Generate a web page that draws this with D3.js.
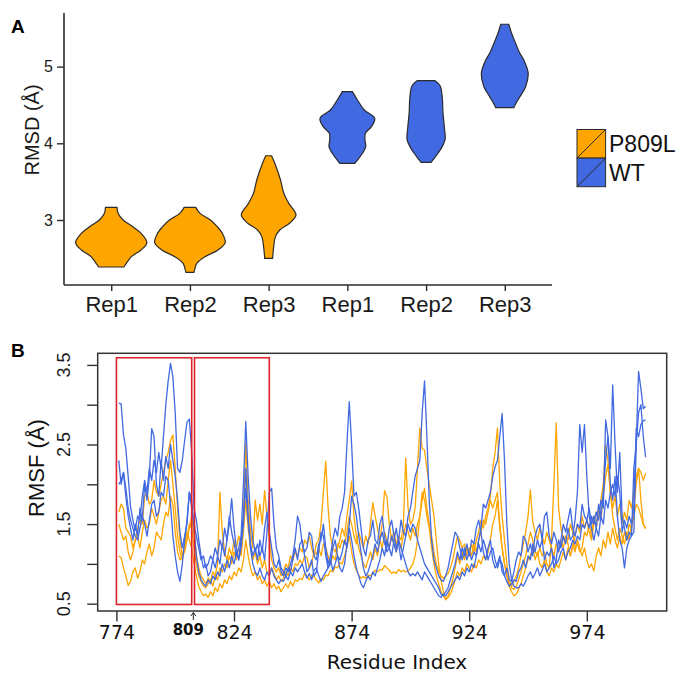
<!DOCTYPE html>
<html>
<head>
<meta charset="utf-8">
<script src="https://cdn.jsdelivr.net/npm/d3@7"></script>
<style>
  body { margin: 0; background: #fff; }
  svg { display: block; }
</style>
</head>
<body>
<div id="chart"></div>
<script>
// ---------- panel A data (RMSD violins) ----------
const rmsdIds = ["P809L-1", "P809L-2", "P809L-3", "WT-1", "WT-2", "WT-3"];
const rmsdLabels = ["Rep1", "Rep2", "Rep3", "Rep1", "Rep2", "Rep3"];
const rmsdGroups = ["P809L", "P809L", "P809L", "WT", "WT", "WT"];
const rmsdTicks = [3, 4, 5];

// [RMSD value, relative density]
const violinP809LRep1 = [[3.165, .16], [3.087, .19], [3.0, .33], [2.913, .6], [2.826, .83], [2.704, .99], [2.609, .83], [2.522, .56], [2.435, .42], [2.387, .35]];
const violinP809LRep2 = [[3.165, .16], [3.087, .28], [3.0, .57], [2.913, .76], [2.826, .9], [2.704, .98], [2.609, .78], [2.522, .42], [2.435, .19], [2.35, .13], [2.318, .11]];
const violinP809LRep3 = [[3.838, .08], [3.74, .17], [3.522, .33], [3.348, .42], [3.217, .56], [3.065, .76], [2.957, .58], [2.87, .31], [2.783, .19], [2.652, .14], [2.5, .11]];
const violinWTRep1 = [[4.674, .14], [4.565, .28], [4.434, .47], [4.326, .76], [4.217, .67], [4.13, .5], [4.043, .49], [3.956, .51], [3.87, .42], [3.739, .21]];
const violinWTRep2 = [[4.817, .25], [4.75, .39], [4.6, .45], [4.4, .47], [4.2, .51], [4.05, .53], [3.95, .44], [3.87, .33], [3.8, .22], [3.752, .14]];
const violinWTRep3 = [[5.552, .11], [5.434, .19], [5.304, .3], [5.173, .42], [5.086, .53], [4.912, .65], [4.738, .58], [4.608, .42], [4.521, .31], [4.464, .25]];
const violins = [violinP809LRep1, violinP809LRep2, violinP809LRep3, violinWTRep1, violinWTRep2, violinWTRep3];

// ---------- panel B data (RMSF per residue, 775..999) ----------
const firstResidue = 775;
const xTicksB = [774, 824, 874, 924, 974];
const yTicksB = [0.5, 1, 1.5, 2, 2.5, 3, 3.5];
const yLabelsB = [0.5, 1.5, 2.5, 3.5];
const boxedRegions = [[774, 806], [807.2, 839]];
const boxedRange = [0.49, 3.59];
const markerResidue = 806.7;

const wt1 = [
  3.02,3.01,2.62,2.45,2.1,1.72,1.55,1.42,1.6,1.55,1.85,2.05,1.9,2.2,2.05,2.3,2.15,2.4,2.2,2.6,3.0,3.3,3.52,3.35,2.9,
  2.2,2.15,2.3,2.55,2.78,2.82,2.4,1.7,1.55,1.3,1.1,0.95,1.0,0.85,0.9,1.05,0.95,1.1,1.0,1.25,1.1,1.3,1.5,1.82,1.45,
  1.2,1.05,1.3,1.6,1.95,1.55,1.25,1.1,1.2,1.05,1.3,1.15,1.45,1.65,1.4,1.2,1.0,0.95,1.05,0.9,0.85,0.95,0.9,1.0,1.1,
  1.3,1.6,1.5,1.25,1.15,1.2,1.4,1.35,1.1,1.05,1.25,1.3,1.5,1.2,1.0,1.1,1.3,1.45,1.35,1.6,1.7,1.9,2.5,3.04,2.5,
  1.85,1.9,1.7,1.45,1.2,1.1,1.3,1.35,1.55,1.3,1.25,1.5,1.6,1.35,1.15,1.2,1.1,1.3,1.45,1.25,1.05,1.2,1.35,1.5,1.4,
  1.5,1.45,1.3,1.2,1.1,1.0,0.95,0.9,0.85,0.8,0.75,0.7,0.62,0.6,0.65,0.7,0.8,0.9,1.0,1.15,1.05,1.2,1.1,1.25,1.1,
  1.3,1.25,1.45,1.55,1.4,1.15,1.05,1.2,1.3,1.05,0.95,1.0,1.1,0.9,0.85,0.95,0.8,0.78,0.9,1.05,1.15,1.1,1.35,1.3,1.15,
  1.25,1.1,1.35,1.45,1.5,1.3,1.6,1.65,1.35,1.25,1.4,1.3,1.15,1.3,1.5,1.4,1.55,1.7,1.45,1.35,1.5,1.45,1.75,1.6,1.55,
  1.7,1.5,1.6,1.45,1.75,1.6,1.9,2.3,2.6,2.2,3.25,2.5,1.9,2.4,1.6,1.45,1.3,1.4,1.35,2.2,2.5,3.42,3.2,2.95,2.98
];
const wt2 = [
  2.3,2.0,2.15,1.85,1.6,1.45,1.3,1.5,1.35,1.7,1.55,2.0,1.8,2.1,2.7,2.6,2.0,1.85,2.3,2.05,2.35,2.2,2.5,2.3,2.1,
  1.8,1.4,1.2,1.35,1.5,1.9,1.7,1.5,1.35,1.2,1.05,1.1,0.95,1.0,1.1,1.05,1.2,1.1,1.3,1.2,1.45,1.3,1.6,1.4,1.25,
  1.1,1.2,1.35,2.0,2.79,2.1,1.6,1.3,1.15,1.25,1.1,1.2,1.05,1.4,1.9,1.95,1.5,1.2,1.1,0.95,0.9,0.85,0.95,0.9,1.05,
  1.2,1.05,1.25,1.3,1.1,0.9,0.95,1.05,0.85,0.9,1.15,1.4,1.35,1.1,0.95,1.0,1.2,1.3,1.1,0.95,0.9,1.0,1.25,1.5,1.85,
  1.75,1.6,1.35,1.15,0.95,0.85,0.9,1.0,1.1,1.25,1.15,1.3,1.4,1.25,1.2,1.45,1.55,1.35,1.2,1.3,1.55,1.4,1.35,1.6,1.7,
  1.9,2.1,2.2,2.3,2.9,3.3,2.6,1.8,1.3,1.05,0.95,0.85,0.8,0.78,0.85,0.95,1.1,1.25,1.4,1.35,1.2,1.05,1.2,1.05,1.15,
  1.05,1.15,1.1,1.25,1.15,1.3,1.2,1.05,1.15,1.2,1.05,0.95,1.05,1.0,0.85,0.78,0.72,0.75,0.8,0.78,0.9,0.95,1.05,0.95,1.1,
  1.05,1.25,1.15,1.3,1.2,1.3,1.05,1.15,1.1,1.2,0.95,1.05,1.3,1.2,1.35,1.25,1.45,1.3,1.35,1.55,1.9,2.75,2.4,2.75,2.1,
  1.6,1.45,1.3,1.45,1.35,1.6,1.5,1.8,1.7,1.9,2.0,1.85,2.1,1.9,1.4,1.55,1.45,1.6,1.5,1.7,2.7,2.6,2.75,2.8,2.81
];
const wt3 = [
  2.0,2.05,2.15,1.95,1.7,1.55,1.45,1.35,1.3,1.45,1.6,1.5,1.35,1.55,1.75,1.8,1.6,1.65,1.9,1.85,2.1,2.05,1.75,1.35,1.1,
  0.9,0.78,1.0,1.3,1.55,1.9,1.8,1.45,1.1,0.9,0.8,0.75,0.72,0.8,0.75,0.85,0.8,0.9,0.85,1.0,0.9,1.05,0.95,1.1,1.0,
  1.15,1.05,1.2,1.5,2.2,1.6,1.2,1.0,0.9,0.85,0.95,0.85,0.8,0.9,0.85,0.95,0.85,0.8,0.75,0.8,0.78,0.85,0.8,0.9,0.85,
  0.95,0.9,0.95,1.0,0.9,0.82,0.88,0.8,0.92,0.95,0.85,0.78,0.85,0.9,0.95,1.05,0.92,1.0,1.1,1.05,1.15,1.3,1.2,1.45,1.3,
  1.1,0.95,0.85,0.75,0.7,0.78,0.85,0.8,0.9,0.85,0.95,1.05,1.2,1.1,1.3,1.2,1.35,1.25,1.15,1.3,1.2,1.1,1.0,0.9,0.85,
  0.88,0.85,0.9,0.85,0.8,0.9,0.85,0.8,0.75,0.7,0.65,0.6,0.58,0.62,0.6,0.65,0.7,0.75,0.8,0.85,0.8,0.9,0.85,0.95,0.9,
  1.0,0.95,1.1,1.3,1.45,1.75,1.7,1.8,1.9,2.1,2.22,2.3,2.6,2.89,2.3,1.5,1.0,0.8,0.72,0.7,0.7,0.75,0.72,0.78,0.85,
  0.9,0.82,0.88,0.95,0.85,0.92,1.0,0.9,0.95,1.0,1.1,1.0,1.05,1.15,1.2,1.05,1.15,1.2,1.3,1.25,1.35,1.3,1.5,1.45,1.55,
  1.45,1.6,1.5,1.65,1.55,1.8,1.7,2.81,2.6,2.0,1.8,2.1,1.6,1.3,1.2,0.95,1.2,1.3,1.35,1.4,2.5,2.9,3.0,2.6,2.34
];
const mut1 = [
  1.65,1.75,1.7,1.45,1.4,1.35,1.2,1.3,1.45,1.55,1.5,1.85,1.9,1.75,1.8,2.05,1.9,1.85,2.0,2.15,2.3,2.4,2.55,2.62,2.2,
  1.7,1.3,1.1,1.15,1.3,1.45,1.6,1.35,1.1,0.95,0.85,0.8,0.75,0.82,0.78,0.9,0.85,1.0,1.9,1.4,1.15,1.05,1.2,1.1,1.3,
  1.2,1.35,1.25,1.6,2.53,1.8,1.4,1.2,1.8,1.55,1.75,1.5,1.92,1.6,1.3,1.05,0.95,0.9,0.95,0.85,0.9,1.0,0.95,1.1,1.05,
  1.15,1.1,1.2,1.15,1.3,1.25,1.35,1.2,1.1,1.25,1.3,1.5,1.9,2.29,1.7,1.35,1.2,1.15,1.25,1.2,1.3,1.25,1.4,1.6,1.5,
  1.35,1.25,1.4,1.3,1.2,1.35,1.25,1.5,1.77,1.6,1.45,1.3,1.5,1.92,1.85,1.5,1.3,1.4,1.25,1.35,1.3,1.5,2.33,1.7,1.5,
  1.55,1.7,2.2,2.71,2.45,2.43,2.2,2.0,1.8,1.6,1.3,1.0,0.8,0.65,0.55,0.6,0.7,0.8,0.95,1.1,1.0,1.15,1.05,1.2,1.1,
  1.25,1.15,1.3,1.4,1.55,1.45,1.6,1.7,1.85,2.2,2.4,2.71,2.0,1.6,1.3,1.0,0.8,0.7,0.68,0.72,0.8,0.9,1.0,1.1,1.25,
  1.4,1.3,1.15,1.1,1.2,1.1,1.15,1.0,0.95,1.3,2.0,2.77,1.7,1.45,1.3,1.35,1.3,1.5,1.4,1.2,1.25,1.15,1.2,1.4,1.35,
  1.5,1.35,1.6,1.45,1.7,1.55,1.85,2.1,2.25,1.9,1.7,1.85,1.6,1.75,1.5,1.65,1.55,1.8,1.7,1.9,2.1,2.2,2.15,2.05,2.14
];
const mut2 = [
  1.5,1.4,1.3,1.35,1.15,1.05,1.15,1.3,1.35,1.2,1.4,1.55,1.45,1.5,1.7,1.6,1.5,1.65,1.8,1.85,1.75,2.05,2.3,2.0,1.7,
  1.35,1.15,1.05,1.2,1.35,1.5,1.45,1.2,1.0,0.85,0.78,0.72,0.7,0.75,0.8,0.72,0.85,0.8,0.95,0.9,1.0,0.95,1.1,1.0,1.15,
  1.05,1.2,1.1,1.4,1.8,1.45,1.2,1.05,1.15,1.0,1.1,0.95,1.05,0.9,0.85,0.95,0.88,0.8,0.85,0.78,0.82,0.9,0.85,0.95,0.9,
  1.0,0.98,1.05,1.0,1.1,1.08,0.95,1.0,1.15,1.12,1.2,1.1,1.25,1.2,1.1,1.0,1.1,1.05,1.2,1.3,1.45,1.35,1.6,1.8,2.04,
  1.6,1.35,1.2,1.1,1.0,0.95,1.05,1.15,1.05,1.2,1.1,1.3,1.2,1.4,1.3,1.2,1.35,1.25,1.15,1.3,1.2,1.35,1.5,1.4,1.3,
  1.45,1.35,1.5,1.6,1.8,1.95,1.7,1.5,1.35,1.15,1.0,0.9,0.85,0.82,0.85,0.88,0.95,1.05,1.2,1.35,1.3,1.2,1.25,1.1,1.2,
  1.1,1.25,1.15,1.3,1.4,1.55,1.5,1.65,1.8,1.7,1.8,1.9,1.5,1.2,1.0,0.85,0.75,0.72,0.78,0.85,0.95,1.1,1.25,1.4,1.6,
  1.93,1.53,1.4,1.3,1.45,1.35,1.25,1.4,1.3,1.2,1.1,1.25,1.15,1.3,1.2,1.35,1.25,1.1,1.2,1.35,1.5,1.4,1.6,1.45,1.55,
  1.4,1.3,1.5,1.65,1.55,1.8,2.0,2.49,2.3,1.9,1.6,1.45,1.3,1.45,1.35,1.25,1.4,1.3,1.5,1.7,2.0,2.2,1.8,1.5,1.44
];
const mut3 = [
  1.1,1.08,0.95,0.85,0.73,0.78,0.9,0.95,0.82,0.9,1.05,1.0,1.15,1.25,1.1,1.2,1.4,1.35,1.3,1.5,1.65,1.6,1.85,1.75,1.4,
  1.15,1.05,1.1,1.25,1.4,1.3,1.2,1.0,0.85,0.72,0.65,0.6,0.62,0.58,0.65,0.6,0.7,0.65,0.75,0.7,0.8,0.75,0.85,0.8,0.9,
  0.85,0.95,0.9,1.05,1.3,1.1,0.95,0.85,0.9,0.8,0.85,0.75,0.8,0.72,0.78,0.7,0.75,0.68,0.72,0.65,0.7,0.75,0.7,0.78,0.72,
  0.8,0.78,0.82,0.8,0.88,0.85,0.8,0.86,0.84,0.8,0.76,0.82,0.8,0.86,0.85,0.92,0.9,0.96,0.95,1.02,1.0,1.1,1.2,1.35,1.15,
  1.0,0.92,0.86,0.82,0.84,0.82,0.86,0.85,0.88,0.92,0.9,0.93,0.92,0.98,0.95,0.92,0.88,0.9,0.88,0.93,0.9,0.92,0.9,0.91,0.95,
  1.0,1.1,1.3,1.6,1.9,1.8,1.6,1.45,1.2,1.0,0.85,0.75,0.65,0.6,0.55,0.58,0.62,0.7,0.8,0.9,0.85,0.95,0.9,1.0,0.95,
  0.9,1.0,0.95,1.05,1.0,1.1,1.05,1.15,1.3,1.5,1.6,1.8,1.45,1.2,1.0,0.85,0.72,0.65,0.6,0.62,0.68,0.75,0.85,0.95,1.05,
  1.1,1.2,1.05,1.15,1.0,0.95,1.05,0.9,0.85,0.95,0.9,1.0,0.95,1.05,1.15,1.05,1.2,1.1,1.25,1.15,1.3,1.2,1.1,1.2,1.05,
  0.95,1.0,0.91,1.1,1.2,1.1,1.3,1.2,1.4,1.25,1.45,1.3,1.2,1.35,1.25,1.4,1.3,1.5,1.45,1.6,1.75,1.7,1.6,1.5,1.45
];

const colors = { P809L: "#FFA500", WT: "#4169E1" };
const ink = "#2b2b2b";

const W = 679, H = 673;
const svg = d3.select("#chart").append("svg")
  .attr("width", W)
  .attr("height", H)
  .style("font-family", "'Liberation Sans', Arial, sans-serif");

// ================= PANEL A =================
const a = { left: 64, right: 552, top: 13, bottom: 285 };

const xA = d3.scalePoint()
  .domain(rmsdIds)
  .range([a.left, a.right])
  .padding(0.6);

const yA = d3.scaleLinear()
  .domain([2.1525, 5.699])
  .range([a.bottom, a.top]);

const wA = d3.scaleLinear().domain([0, 1]).range([0, 36]);

svg.append("text")
  .attr("x", 11).attr("y", 33)
  .attr("font-weight", "bold").attr("font-size", 19)
  .text("A");

// violins
rmsdIds.forEach((id, i) => {
  const cx = xA(id);
  const area = d3.area()
    .y(d => yA(d[0]))
    .x0(d => cx - wA(d[1]))
    .x1(d => cx + wA(d[1]))
    .curve(d3.curveCatmullRom);
  svg.append("path")
    .attr("d", area(violins[i]))
    .attr("fill", colors[rmsdGroups[i]])
    .attr("stroke", ink)
    .attr("stroke-width", 1.2);
});

const yAxisA = svg.append("g")
  .attr("transform", `translate(${a.left},0)`)
  .call(d3.axisLeft(yA).tickValues(rmsdTicks).tickSize(7).tickPadding(4).tickFormat(d3.format("d")));
yAxisA.select(".domain").attr("d", `M0,${a.top}V${a.bottom}`);

const xAxisA = svg.append("g")
  .attr("transform", `translate(0,${a.bottom})`)
  .call(d3.axisBottom(xA).tickSize(6).tickPadding(5).tickFormat((d, i) => rmsdLabels[i]));
xAxisA.select(".domain").attr("d", `M${a.left},0H${a.right}`);

[yAxisA, xAxisA].forEach(g => {
  g.select(".domain").attr("stroke", ink).attr("stroke-width", 1.6);
  g.selectAll(".tick line").attr("stroke", ink).attr("stroke-width", 1.4);
  g.selectAll("text").attr("fill", "#1a1a1a").attr("font-family", "'Liberation Sans', Arial, sans-serif");
});
yAxisA.selectAll("text").attr("font-size", 16);
xAxisA.selectAll("text").attr("font-size", 22);

svg.append("text")
  .attr("transform", "translate(38.5,130) rotate(-90)")
  .attr("text-anchor", "middle")
  .attr("font-size", 20)
  .attr("fill", "#1a1a1a")
  .text("RMSD (Å)");

// legend
const legendKeys = ["P809L", "WT"];
const legend = svg.append("g").attr("transform", "translate(577,129.5)");
legendKeys.forEach((k, i) => {
  const g = legend.append("g").attr("transform", `translate(0,${i * 28.6})`);
  g.append("rect")
    .attr("width", 28.6).attr("height", 28.6)
    .attr("fill", colors[k]).attr("stroke", ink).attr("stroke-width", 1);
  g.append("line")
    .attr("x1", 0).attr("y1", 28.6).attr("x2", 28.6).attr("y2", 0)
    .attr("stroke", ink).attr("stroke-width", 1);
  g.append("text")
    .attr("x", 32).attr("y", 14.3).attr("dy", "0.36em")
    .attr("font-size", 23).attr("fill", "#111")
    .text(k);
});

// ================= PANEL B =================
const b = { left: 97.7, right: 666.7, top: 353.3, bottom: 611 };
const residues = d3.range(firstResidue, firstResidue + wt1.length);

const xB = d3.scaleLinear()
  .domain([766.04, 1007.96])
  .range([b.left, b.right]);

const yB = d3.scaleLinear()
  .domain([0.408, 3.646])
  .range([b.bottom, b.top]);

svg.append("text")
  .attr("x", 11).attr("y", 357)
  .attr("font-weight", "bold").attr("font-size", 19)
  .text("B");

const line = d3.line()
  .x((d, i) => xB(residues[i]))
  .y(d => yB(d));

const seriesB = [
  { values: mut1, group: "P809L" },
  { values: mut2, group: "P809L" },
  { values: mut3, group: "P809L" },
  { values: wt3, group: "WT" },
  { values: wt2, group: "WT" },
  { values: wt1, group: "WT" }
];

svg.append("g").selectAll("path")
  .data(seriesB)
  .join("path")
  .attr("d", d => line(d.values))
  .attr("fill", "none")
  .attr("stroke", d => colors[d.group])
  .attr("stroke-width", 1.3)
  .attr("stroke-linejoin", "round");

// highlighted regions
svg.append("g").selectAll("rect")
  .data(boxedRegions)
  .join("rect")
  .attr("x", d => xB(d[0]))
  .attr("width", d => xB(d[1]) - xB(d[0]))
  .attr("y", yB(boxedRange[1]))
  .attr("height", yB(boxedRange[0]) - yB(boxedRange[1]))
  .attr("fill", "none")
  .attr("stroke", "#e0242b")
  .attr("stroke-width", 1.6);

// frame
svg.append("rect")
  .attr("x", b.left).attr("y", b.top)
  .attr("width", b.right - b.left).attr("height", b.bottom - b.top)
  .attr("fill", "none").attr("stroke", "#333").attr("stroke-width", 1.5);

const yAxisB = svg.append("g")
  .attr("transform", `translate(${b.left},0)`)
  .call(d3.axisLeft(yB).tickValues(yTicksB).tickSize(10.5).tickFormat(""));
yAxisB.select(".domain").remove();
yAxisB.selectAll(".tick line").attr("stroke", "#333").attr("stroke-width", 1.4);

svg.append("g").selectAll("text")
  .data(yLabelsB)
  .join("text")
  .attr("transform", d => `translate(69.5,${yB(d)}) rotate(-90)`)
  .attr("text-anchor", "middle")
  .attr("font-size", 18)
  .attr("fill", "#1a1a1a")
  .text(d3.format(".1f"));

const xAxisB = svg.append("g")
  .attr("transform", `translate(0,${b.bottom})`)
  .call(d3.axisBottom(xB).tickValues(xTicksB).tickSize(10.5).tickPadding(4).tickFormat(d3.format("d")));
xAxisB.select(".domain").remove();
xAxisB.selectAll(".tick line").attr("stroke", "#333").attr("stroke-width", 1.4);
xAxisB.selectAll("text")
  .attr("font-family", "'DejaVu Sans', sans-serif")
  .attr("font-size", 19)
  .attr("fill", "#111");

// 809 marker
const mx = xB(markerResidue);
svg.append("line")
  .attr("x1", mx).attr("x2", mx)
  .attr("y1", b.bottom + 9).attr("y2", b.bottom + 2)
  .attr("stroke", "#222").attr("stroke-width", 1);
svg.append("path")
  .attr("d", `M${mx - 2.5},${b.bottom + 5}L${mx},${b.bottom + 1.5}L${mx + 2.5},${b.bottom + 5}`)
  .attr("fill", "none").attr("stroke", "#222").attr("stroke-width", 1);
svg.append("text")
  .attr("x", mx - 5).attr("y", 635)
  .attr("text-anchor", "middle")
  .attr("font-family", "'DejaVu Sans', sans-serif")
  .attr("font-weight", "bold")
  .attr("font-size", 15)
  .attr("fill", "#111")
  .text("809");

svg.append("text")
  .attr("x", 397).attr("y", 669)
  .attr("text-anchor", "middle")
  .attr("font-family", "'DejaVu Sans', sans-serif")
  .attr("font-size", 20)
  .attr("fill", "#111")
  .text("Residue Index");

svg.append("text")
  .attr("transform", "translate(43.5,468) rotate(-90)")
  .attr("text-anchor", "middle")
  .attr("font-size", 22)
  .attr("fill", "#111")
  .text("RMSF (Å)");
</script>
</body>
</html>
